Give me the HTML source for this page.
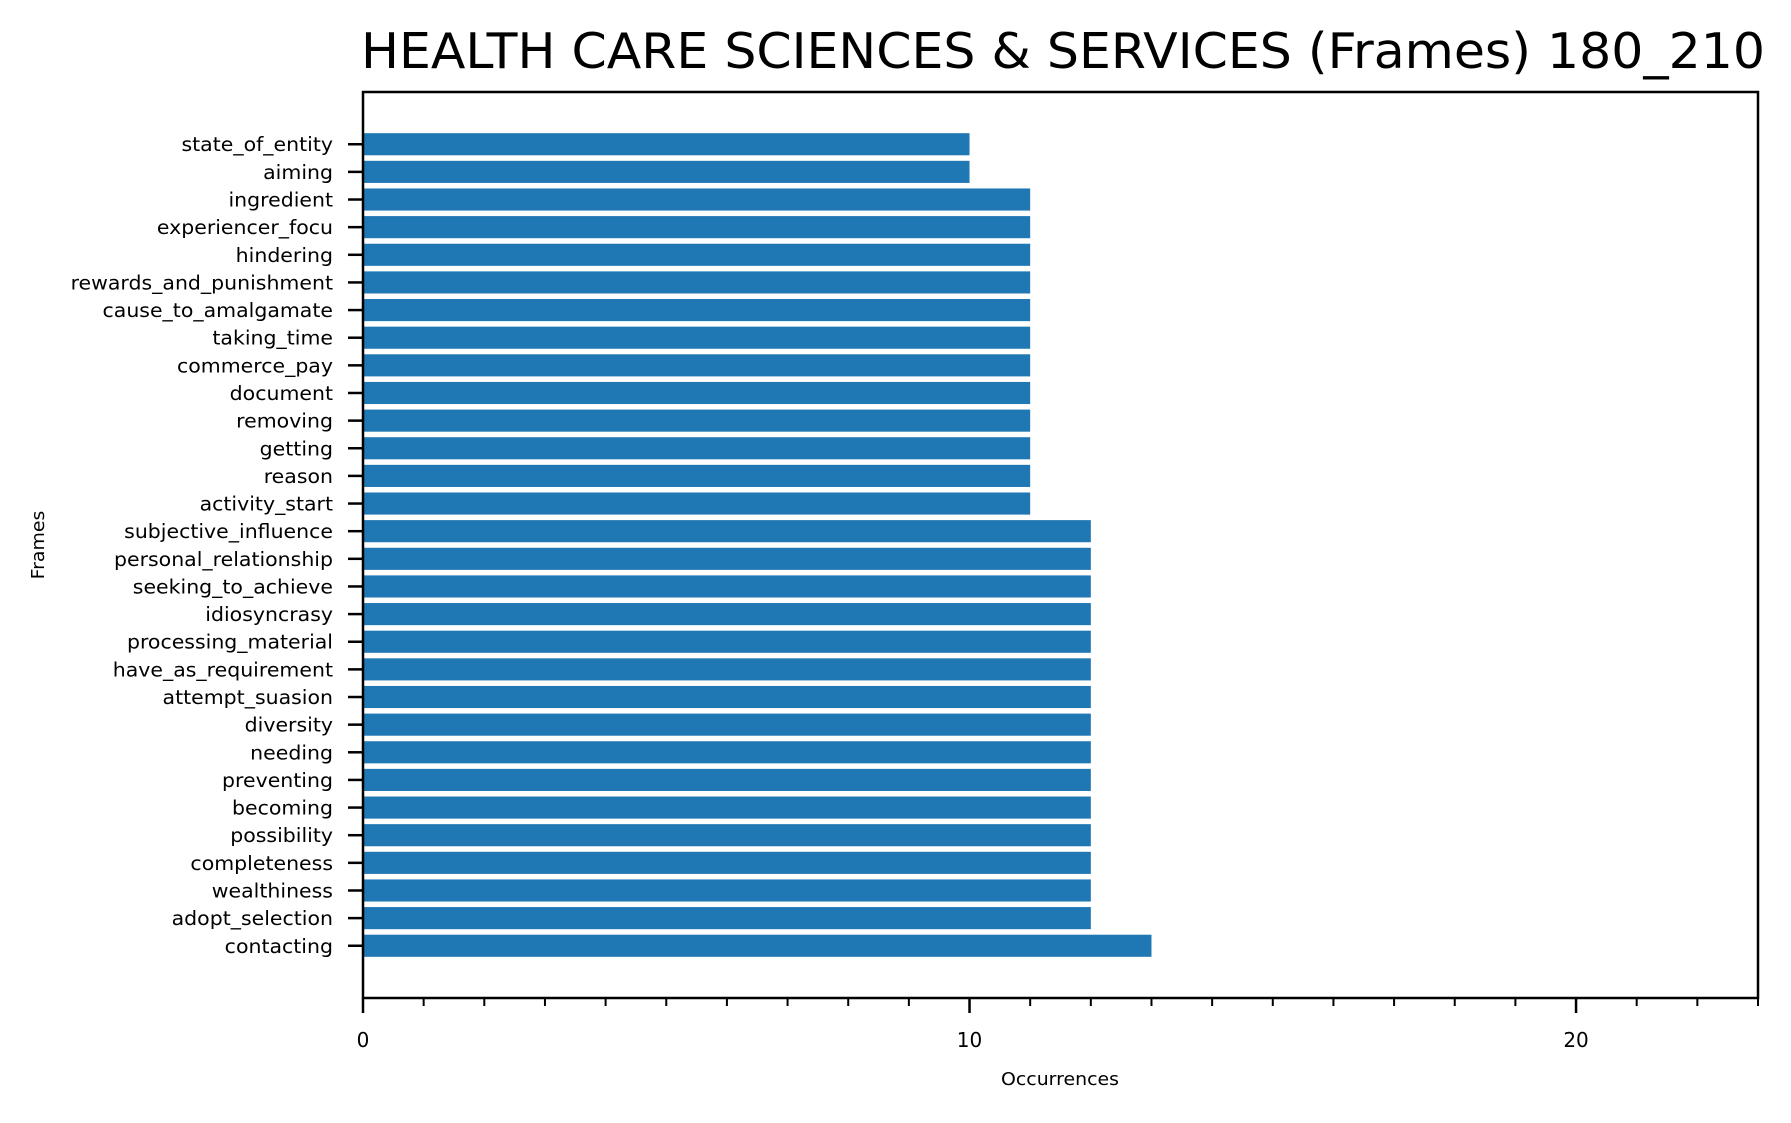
<!DOCTYPE html>
<html><head><meta charset="utf-8"><style>
html,body{margin:0;padding:0;background:#fff;}
svg text{font-family:"DejaVu Sans","Liberation Sans",sans-serif;fill:#000;}
</style></head><body>
<svg id="chart" width="1791" height="1118" viewBox="0 0 1791 1118" xmlns="http://www.w3.org/2000/svg">
<rect width="1791" height="1118" fill="#fff"/>
<text x="1063" y="68" font-size="49" text-anchor="middle" textLength="1404" lengthAdjust="spacingAndGlyphs">HEALTH CARE SCIENCES &amp; SERVICES (Frames) 180_210</text>
<g id="bars"></g>
<g id="yticks"></g>
<g id="xticks"></g>
<rect x="363" y="92" width="1395" height="906" fill="none" stroke="#000" stroke-width="2.5"/>
<text id="xt" x="1060" y="1085" font-size="18" text-anchor="middle">Occurrences</text>
<text id="yt" x="0" y="0" font-size="18" text-anchor="middle" transform="translate(44,545) rotate(-90)">Frames</text>
</svg>
<script>
const categories = ["state_of_entity","aiming","ingredient","experiencer_focu","hindering","rewards_and_punishment","cause_to_amalgamate","taking_time","commerce_pay","document","removing","getting","reason","activity_start","subjective_influence","personal_relationship","seeking_to_achieve","idiosyncrasy","processing_material","have_as_requirement","attempt_suasion","diversity","needing","preventing","becoming","possibility","completeness","wealthiness","adopt_selection","contacting"];
const values = [10,10,11,11,11,11,11,11,11,11,11,11,11,11,12,12,12,12,12,12,12,12,12,12,12,12,12,12,12,13];
const xTickValues = [0,10,20];
const xTickLabels = ["0","10","20"];
const xMax = 23;

const NS="http://www.w3.org/2000/svg";
const L=363,R=1758,T=92,B=998;
const n=categories.length;
const yMin=-0.4-0.05*(n-0.2), yMaxv=(n-1)+0.4+0.05*(n-0.2);
function xs(v){return L+(R-L)*v/xMax;}
function ys(i){const v=n-1-i;return B-(B-T)*(v-yMin)/(yMaxv-yMin);}
const unit=(B-T)/(yMaxv-yMin);
function mk(tag,attrs,parent){const e=document.createElementNS(NS,tag);for(const k in attrs)e.setAttribute(k,attrs[k]);parent.appendChild(e);return e;}
function widen(t,k){const w=t.getComputedTextLength();t.setAttribute('textLength',w*k);t.setAttribute('lengthAdjust','spacingAndGlyphs');}
const gb=document.getElementById('bars'),gy=document.getElementById('yticks'),gx=document.getElementById('xticks');
categories.forEach((c,i)=>{
  const y=ys(i);
  const r=mk('rect',{x:xs(0),y:y-0.4*unit,width:xs(values[i])-xs(0),height:0.8*unit,fill:'#1f77b4'},gb);
  
  
  const t=mk('line',{x1:L-15,x2:L,y1:y,y2:y,stroke:'#000','stroke-width':2.5},gy);
  
  
  const tx=mk('text',{x:L-30,y:y+7,'font-size':19.5,'text-anchor':'end'},gy);
  tx.textContent=c;
  
  
  widen(tx,1.05);
});
for(let v=0;v<=xMax;v++){
  const major=xTickValues.indexOf(v)>=0;
  const t=mk('line',{x1:xs(v),x2:xs(v),y1:B,y2:B+(major?15:8),stroke:'#000','stroke-width':major?2.5:2},gx);
  
  
}
xTickValues.forEach((v,i)=>{
  const tx=mk('text',{x:xs(v),y:1047,'font-size':20,'text-anchor':'middle'},gx);
  tx.textContent=xTickLabels[i];
  
  
});
widen(document.getElementById('xt'),1.05);
widen(document.getElementById('yt'),1.05);
</script>
</body></html>
